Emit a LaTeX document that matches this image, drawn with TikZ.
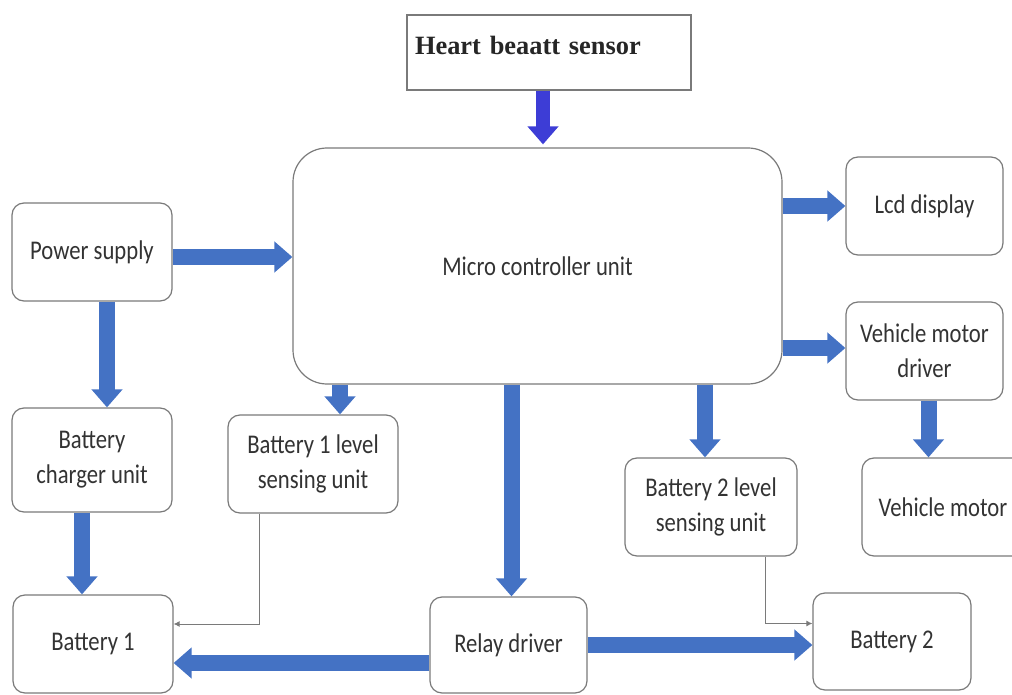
\documentclass[tikz,border=0pt]{standalone}
\usepackage{fontspec}
\setmainfont{Carlito}[FakeStretch=0.84]
\newfontfamily\serifbold{Liberation Serif}
\usetikzlibrary{shapes,arrows,arrows.meta,positioning}
\definecolor{arrblue}{HTML}{4472C4}
\definecolor{sensblue}{HTML}{3D3DD6}
\definecolor{boxgray}{HTML}{7A7A7A}
\definecolor{txtgray}{HTML}{333333}
\tikzstyle{blk}=[rectangle,draw=boxgray,line width=0.6pt,rounded corners=6pt,fill=white,align=center,text=txtgray,font=\fontsize{13.5}{17.5}\selectfont,minimum width=80pt,minimum height=49pt]
\tikzstyle{sens}=[rectangle,draw=boxgray,line width=0.7pt,fill=white,align=left,text width=134pt,inner sep=4pt,text height=16pt,text depth=13.5pt,font=\serifbold\bfseries\fontsize{13.2}{15}\selectfont,text=black!85]
\tikzstyle{fat}=[-{Triangle[width=15pt,length=9pt]},line width=8pt,draw=arrblue]
\tikzstyle{thin}=[-{Latex[length=3pt,width=3pt]},draw=boxgray,line width=0.5pt]

\begin{document}
\begin{tikzpicture}[x=0.5pt,y=-0.5pt]
\useasboundingbox (0,0) rectangle (1012,695);
\node[sens] (hbs) at (549,52.5) {Heart beaatt sensor};
\node[blk, rounded corners=17pt, minimum width=244.5pt, minimum height=118pt] (mcu) at (537.5,266) {Micro controller unit};
\node[blk] (ps) at (92,252) {Power supply};
\node[blk, minimum width=78.5pt] (lcd) at (924.5,206) {Lcd display};
\node[blk, minimum width=78.5pt] (vmd) at (924.5,351) {Vehicle motor\\driver};
\node[blk, minimum width=81pt] (vm) at (943,507) {Vehicle motor};
\node[blk, minimum height=52pt] (bcu) at (92,460) {Battery\\charger unit};
\node[blk, minimum width=85pt] (b1l) at (313,464) {Battery 1 level\\sensing unit};
\node[blk, minimum width=86pt] (b2l) at (711,507) {Battery 2 level\\sensing unit};
\node[blk] (b1) at (93,644) {Battery 1};
\node[blk, minimum width=78.5pt, minimum height=48pt] (rly) at (508.5,645) {Relay driver};
\node[blk, minimum width=79pt, minimum height=48.5pt] (b2) at (892,641.5) {Battery 2};
% fat arrows
\path[fat, draw=sensblue, line width=7pt] ([xshift=-3pt]hbs.south) -- ([xshift=-3pt,yshift=1.5pt]hbs.south |- mcu.north);
\path[fat] ([yshift=-2.5pt]ps.east) -- ([yshift=-2.5pt]ps.east -| mcu.west);
\path[fat] (mcu.east |- lcd.west) -- (lcd.west);
\path[fat] ([yshift=1.5pt]mcu.east |- vmd.west) -- ([yshift=1.5pt]vmd.west);
\path[fat] ([xshift=2pt]vmd.south) -- ([xshift=2pt]vmd.south |- vm.north);
\path[fat] ([xshift=7.5pt]ps.south) -- ([xshift=7.5pt]ps.south |- bcu.north);
\path[fat] ([xshift=-5pt]bcu.south) -- ([xshift=-5pt]bcu.south |- b1.north);
\path[fat] ([xshift=13.5pt]b1l.north |- mcu.south) -- ([xshift=13.5pt]b1l.north);
\path[fat] ([xshift=1.5pt]rly.north |- mcu.south) -- ([xshift=1.5pt]rly.north);
\path[fat] ([xshift=-3pt]b2l.north |- mcu.south) -- ([xshift=-3pt]b2l.north);
\path[fat] ([yshift=-9pt]rly.west) -- ([yshift=-9pt]rly.west -| b1.east);
\path[fat] (rly.east) -- (rly.east -| b2.west);
% thin sense lines
\path[thin] ([xshift=-27pt]b1l.south) |- ([yshift=10pt]b1.east);
\path[thin] ([xshift=27pt]b2l.south) |- ([yshift=9pt]b2.west);
\end{tikzpicture}
\end{document}
